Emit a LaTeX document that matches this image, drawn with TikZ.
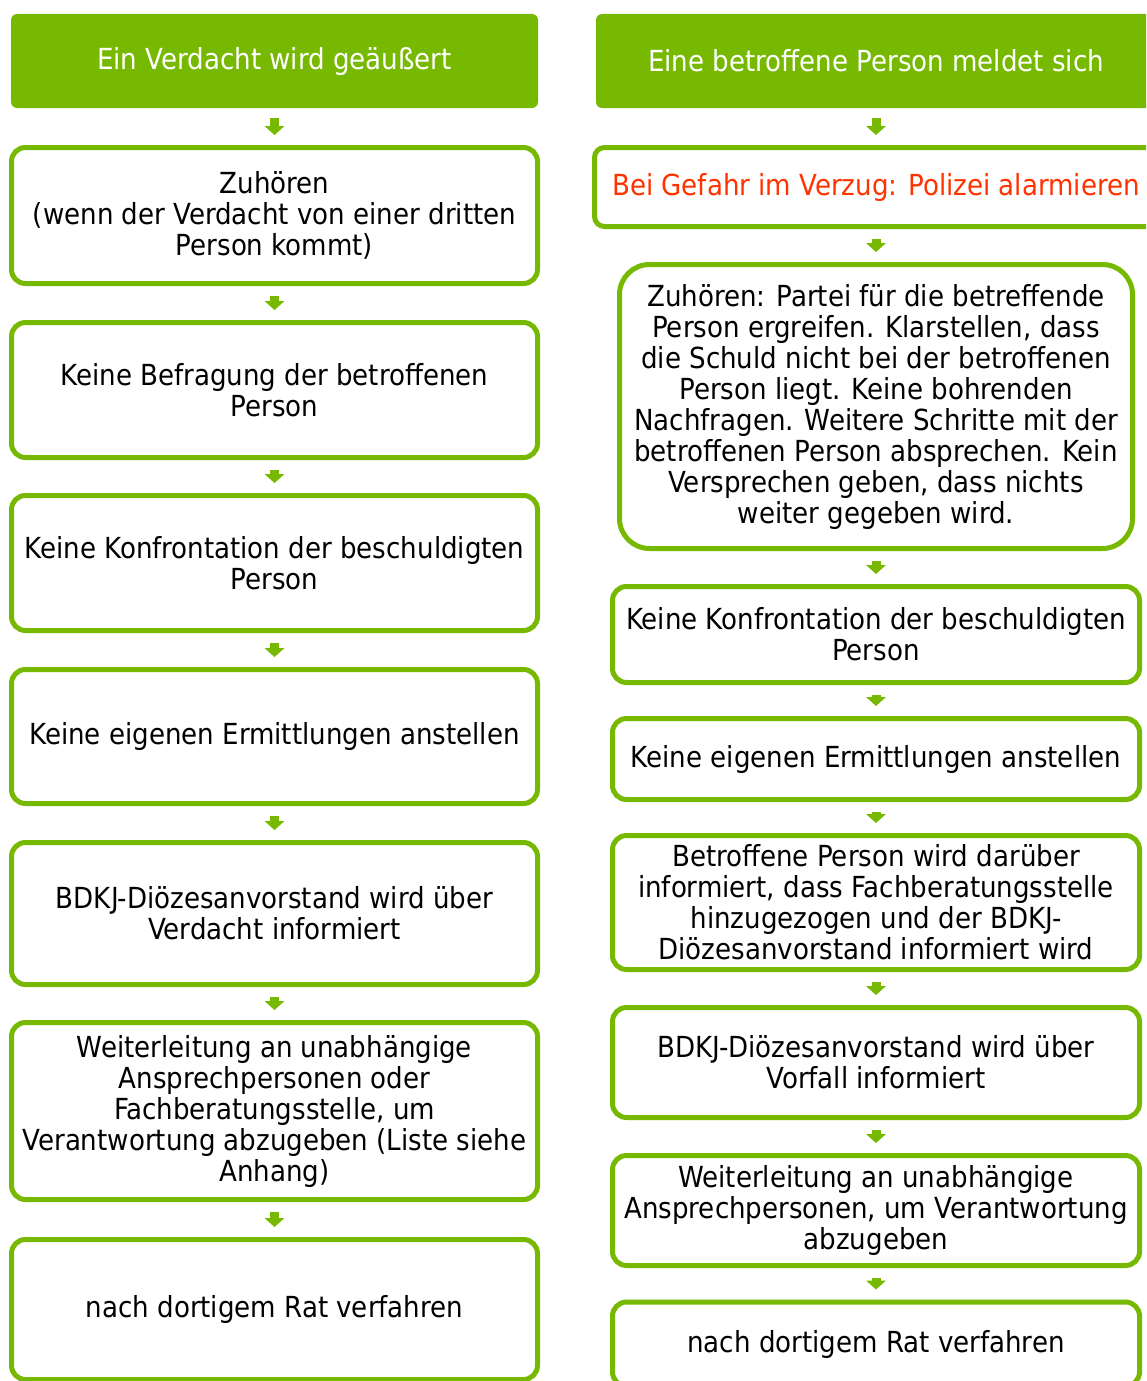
\documentclass[tikz,border=0pt]{standalone}
\usepackage{fontspec}
\setmainfont{DejaVu Sans Condensed}
\definecolor{stepgreen}{HTML}{76B900}
\definecolor{alarmred}{HTML}{FF3300}
\usetikzlibrary{arrows.meta}

\begin{document}
\begin{tikzpicture}[x=1pt, y=-1pt]

    \tikzset{%
        every node/.style={font=\fontsize{29}{31}\selectfont, align=center, inner sep=0pt},
        headbox/.style={fill=stepgreen, text=white, rounded corners=6pt},
        stepbox/.style={draw=stepgreen, fill=white, line width=5pt, rounded corners=14pt},
        flow/.style={draw=stepgreen, line width=9pt, shorten <=10pt, shorten >=10pt,
                -{Triangle[width=20pt, length=9pt, line width=0pt]}},
    }

    \useasboundingbox (0, 0) rectangle (1146, 1381);
    \clip (0, 0) rectangle (1146, 1381);

    % left column
    \node [headbox, minimum width=527pt, minimum height=94pt] (verdacht) at (274.5, 61) {Ein Verdacht wird geäußert};
    \node [stepbox, minimum width=526pt, minimum height=136pt] (zuhoeren) at (274.5, 215.5) {Zuhören\\(wenn der Verdacht von einer dritten\\Person kommt)};
    \node [stepbox, minimum width=526pt, minimum height=135pt] (befragung) at (274.5, 390) {Keine Befragung der betroffenen\\Person};
    \node [stepbox, minimum width=526pt, minimum height=135pt] (konfrontL) at (274.5, 563) {Keine Konfrontation der beschuldigten\\Person};
    \node [stepbox, minimum width=526pt, minimum height=134pt] (ermittlL) at (274.5, 736.5) {Keine eigenen Ermittlungen anstellen};
    \node [stepbox, minimum width=526pt, minimum height=142pt] (vorstandL) at (274.5, 913.5) {BDKJ-Diözesanvorstand wird über\\Verdacht informiert};
    \node [stepbox, minimum width=526pt, minimum height=177pt] (weiterL) at (274.5, 1111) {Weiterleitung an unabhängige\\Ansprechpersonen oder\\Fachberatungsstelle, um\\Verantwortung abzugeben (Liste siehe\\Anhang)};
    \node [stepbox, minimum width=526pt, minimum height=140pt] (ratL) at (274.5, 1309.5) {nach dortigem Rat verfahren};

    \draw [flow] (verdacht.south) -- (zuhoeren.north);
    \draw [flow] (zuhoeren.south) -- (befragung.north);
    \draw [flow] (befragung.south) -- (konfrontL.north);
    \draw [flow] (konfrontL.south) -- (ermittlL.north);
    \draw [flow] (ermittlL.south) -- (vorstandL.north);
    \draw [flow] (vorstandL.south) -- (weiterL.north);
    \draw [flow] (weiterL.south) -- (ratL.north);

    % right column
    \node [headbox, minimum width=560pt, minimum height=94pt] (meldung) at (876, 61) {Eine betroffene Person meldet sich};
    \node [stepbox, minimum width=563pt, minimum height=79pt, rounded corners=10pt, text=alarmred] (polizei) at (876, 187) {Bei Gefahr im Verzug: Polizei alarmieren};
    \node [stepbox, minimum width=513pt, minimum height=284pt, rounded corners=30pt] (partei) at (876, 406.5) {Zuhören: Partei für die betreffende\\Person ergreifen. Klarstellen, dass\\die Schuld nicht bei der betroffenen\\Person liegt. Keine bohrenden\\Nachfragen. Weitere Schritte mit der\\betroffenen Person absprechen. Kein\\Versprechen geben, dass nichts\\weiter gegeben wird.};
    \node [stepbox, minimum width=527pt, minimum height=96pt] (konfrontR) at (876, 634.5) {Keine Konfrontation der beschuldigten\\Person};
    \node [stepbox, minimum width=527pt, minimum height=81pt] (ermittlR) at (876, 759) {Keine eigenen Ermittlungen anstellen};
    \node [stepbox, minimum width=527pt, minimum height=134pt] (informiert) at (876, 902.5) {Betroffene Person wird darüber\\informiert, dass Fachberatungsstelle\\hinzugezogen und der BDKJ-\\Diözesanvorstand informiert wird};
    \node [stepbox, minimum width=527pt, minimum height=110pt] (vorstandR) at (876, 1062.5) {BDKJ-Diözesanvorstand wird über\\Vorfall informiert};
    \node [stepbox, minimum width=527pt, minimum height=110pt] (weiterR) at (876, 1210.5) {Weiterleitung an unabhängige\\Ansprechpersonen, um Verantwortung\\abzugeben};
    \node [stepbox, minimum width=527pt, minimum height=84pt] (ratR) at (876, 1344) {nach dortigem Rat verfahren};

    \draw [flow] (meldung.south) -- (polizei.north);
    \draw [flow] (polizei.south) -- (partei.north);
    \draw [flow] (partei.south) -- (konfrontR.north);
    \draw [flow] (konfrontR.south) -- (ermittlR.north);
    \draw [flow] (ermittlR.south) -- (informiert.north);
    \draw [flow] (informiert.south) -- (vorstandR.north);
    \draw [flow] (vorstandR.south) -- (weiterR.north);
    \draw [flow] (weiterR.south) -- (ratR.north);

\end{tikzpicture}
\end{document}
